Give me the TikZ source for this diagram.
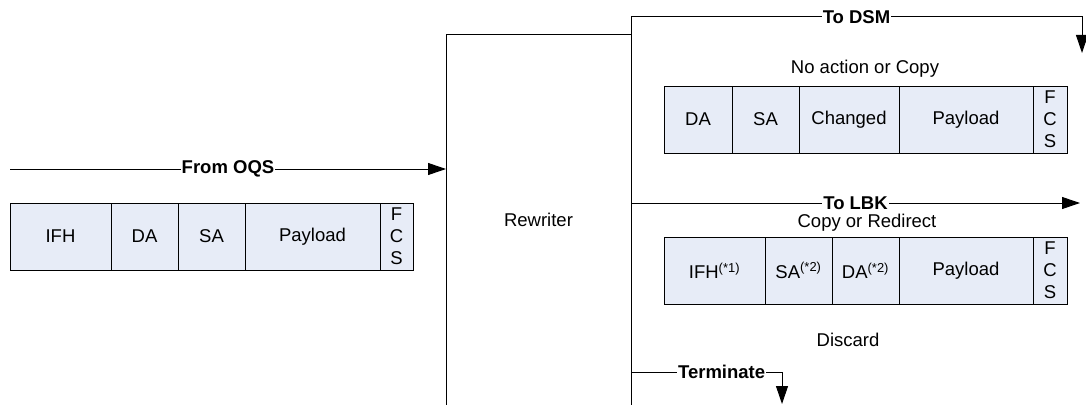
\documentclass[tikz,border=0pt]{standalone}
\usepackage{fontspec}
\setmainfont{Liberation Sans}
\usetikzlibrary{positioning,arrows.meta}
\definecolor{cellfill}{RGB}{231,236,247}

\begin{document}
\begin{tikzpicture}[
    x=1pt, y=-1pt,
    every node/.style={font=\fontsize{18.5}{22}\selectfont},
    cell/.style={rectangle, draw=black, line width=1pt, fill=cellfill, minimum height=67pt, inner sep=0pt, outer sep=0pt, align=center},
    block/.style={rectangle, draw=black, line width=1pt, minimum width=185pt, minimum height=370pt, outer sep=0pt},
    lbl/.style={fill=white, inner sep=1pt, font=\fontsize{18.5}{22}\selectfont\bfseries},
    arrow/.style={-{Triangle[length=18pt,width=12pt]}, line width=1pt}
]
    \useasboundingbox (0,0) rectangle (1086,404);

    % rewriter block
    \node[block, anchor=north west] (rw) at (446,35) {Rewriter};

    % incoming frame
    \node[cell, minimum width=101pt, anchor=north west] (in1) at (10,203) {IFH};
    \node[cell, minimum width=67pt, right=0pt of in1] (in2) {DA};
    \node[cell, minimum width=67pt, right=0pt of in2] (in3) {SA};
    \node[cell, minimum width=135pt, right=0pt of in3] (in4) {Payload};
    \node[cell, minimum width=33pt, right=0pt of in4] (in5) {F\\C\\S};

    % frame to DSM
    \node (dsmtxt) at (865,69) {No action or Copy};
    \node[cell, minimum width=68pt, anchor=north west] (dsm1) at (664,86) {DA};
    \node[cell, minimum width=67pt, right=0pt of dsm1] (dsm2) {SA};
    \node[cell, minimum width=100pt, right=0pt of dsm2] (dsm3) {Changed};
    \node[cell, minimum width=134pt, right=0pt of dsm3] (dsm4) {Payload};
    \node[cell, minimum width=34pt, right=0pt of dsm4] (dsm5) {F\\C\\S};

    % frame to LBK
    \node (lbktxt) at (867,223) {Copy or Redirect};
    \node[cell, minimum width=101pt, anchor=north west] (lbk1) at (664,237) {IFH\textsuperscript{(*1)}};
    \node[cell, minimum width=67pt, right=0pt of lbk1] (lbk2) {SA\textsuperscript{(*2)}};
    \node[cell, minimum width=67pt, right=0pt of lbk2] (lbk3) {DA\textsuperscript{(*2)}};
    \node[cell, minimum width=134pt, right=0pt of lbk3] (lbk4) {Payload};
    \node[cell, minimum width=34pt, right=0pt of lbk4] (lbk5) {F\\C\\S};

    \node (discard) at (848,340) {Discard};

    % connectors
    \coordinate (oqs) at (10,169);
    \coordinate (dsmup) at (631,17);
    \coordinate (dsmend) at (1082,53);
    \coordinate (lbkend) at (1080,203);
    \coordinate (termend) at (782,404);

    \draw[arrow] (oqs) -- node[lbl] {From OQS} (oqs -| rw.west);
    \draw[arrow] (rw.north east) -- (dsmup) -- node[lbl] {To DSM} (dsmup -| dsmend) -- (dsmend);
    \draw[arrow] (lbkend -| rw.east) -- node[lbl] {To LBK} (lbkend);
    \draw[arrow] (rw.east |- 0,372) -- node[lbl, pos=0.6] {Terminate} (termend |- 0,372) -- (termend);
\end{tikzpicture}
\end{document}
